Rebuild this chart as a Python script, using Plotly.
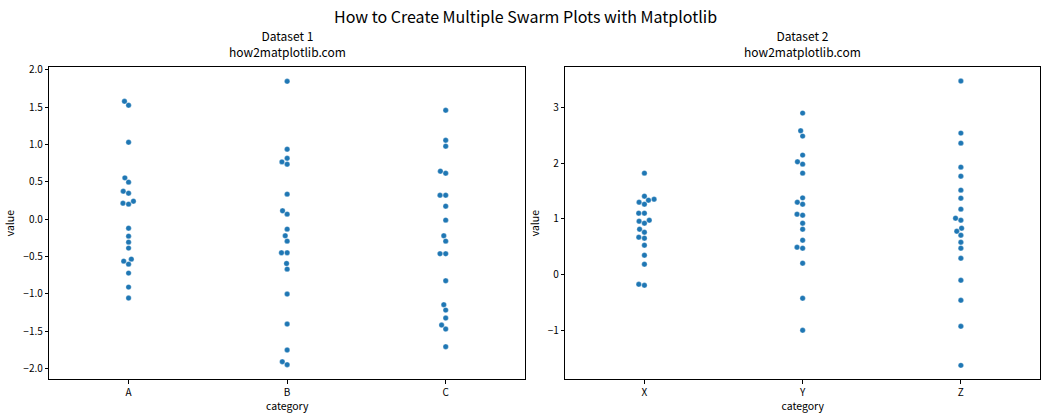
import numpy as np
import plotly.graph_objects as go

# ---- data ----
cats1 = ["A", "B", "C"]
cats2 = ["X", "Y", "Z"]

vals_A = [1.580, 1.527, 1.031, 0.554, 0.496, 0.375, 0.348, 0.241, 0.214, 0.201,
          -0.121, -0.228, -0.308, -0.388, -0.536, -0.563, -0.603, -0.723, -0.911, -1.058]
vals_B = [1.848, 0.938, 0.817, 0.768, 0.737, 0.335, 0.112, 0.067, -0.134, -0.223,
          -0.295, -0.451, -0.451, -0.594, -0.670, -1.004, -1.406, -1.754, -1.911, -1.951]
vals_C = [1.460, 1.058, 0.978, 0.643, 0.616, 0.321, 0.321, 0.174, -0.013, -0.223,
          -0.295, -0.464, -0.464, -0.826, -1.147, -1.219, -1.326, -1.420, -1.473, -1.710]
vals_X = [1.820, 1.407, 1.353, 1.335, 1.299, 1.263, 1.102, 1.102, 0.976, 0.958,
          0.922, 0.814, 0.760, 0.671, 0.653, 0.527, 0.347, 0.186, -0.174, -0.192]
vals_Y = [2.898, 2.581, 2.485, 2.144, 2.024, 1.982, 1.820, 1.377, 1.299, 1.263,
          1.084, 1.066, 0.922, 0.814, 0.617, 0.491, 0.473, 0.204, -0.425, -1.000]
vals_Z = [3.473, 2.539, 2.359, 1.928, 1.766, 1.515, 1.371, 1.174, 1.012, 0.976,
          0.832, 0.778, 0.707, 0.581, 0.473, 0.293, -0.102, -0.461, -0.928, -1.629]

yticks1 = [-2.0, -1.5, -1.0, -0.5, 0.0, 0.5, 1.0, 1.5, 2.0]
yticks2 = [-1, 0, 1, 2, 3]

# ---- layout geometry ----
W, H = 1050, 420
dom_x1 = [49.3 / W, 525.0 / W]
dom_x2 = [565.3 / W, 1040.0 / W]
dom_y = [(H - 379.0) / H, (H - 67.3) / H]
yr1 = [-2.143, 2.036]
yr2 = [-1.874, 3.72]
xr = [-0.5, 2.5]
COLOR = "#1f77b4"
FONT = "Noto Sans CJK SC"
DIAM = 5.7  # collision diameter in px


def beeswarm(vals, px_per_y, d=DIAM):
    y = np.asarray(vals, dtype=float) * px_per_y
    order = np.argsort(y, kind="stable")
    xs = np.zeros(len(y))
    placed = []
    for i in order:
        yi = y[i]
        nb = [(px, py) for px, py in placed if abs(py - yi) < d]
        cands = [0.0]
        for px, py in nb:
            dx = np.sqrt(d ** 2 - (py - yi) ** 2)
            cands += [px - dx, px + dx]
        cands = sorted(cands, key=abs)
        chosen = 0.0
        for c in cands:
            if all((c - px) ** 2 + (yi - py) ** 2 >= d ** 2 - 1e-6 for px, py in nb):
                chosen = c
                break
        xs[i] = chosen
        placed.append((chosen, yi))
    return xs


plot_h = (dom_y[1] - dom_y[0]) * H
fig = go.Figure()

panels = [
    (cats1, [vals_A, vals_B, vals_C], yr1, dom_x1, "x", "y"),
    (cats2, [vals_X, vals_Y, vals_Z], yr2, dom_x2, "x2", "y2"),
]
for cats, series, yr, domx, xa, ya in panels:
    px_per_y = plot_h / (yr[1] - yr[0])
    plot_w = (domx[1] - domx[0]) * W
    px_per_x = plot_w / (xr[1] - xr[0])
    for k, (cat, vals) in enumerate(zip(cats, series)):
        offs = beeswarm(vals, px_per_y) / px_per_x
        fig.add_trace(go.Scatter(
            x=k + offs, y=vals, mode="markers", name=cat,
            marker=dict(color=COLOR, size=5.4, line=dict(width=0.3, color="white")),
            xaxis=xa, yaxis=ya, showlegend=False,
        ))

axis_common = dict(
    showline=True, mirror=True, linecolor="black", linewidth=1,
    ticks="outside", ticklen=3.5, tickwidth=0.8, tickcolor="black",
    showgrid=False, zeroline=False, automargin=False,
    tickfont=dict(family=FONT, size=10, color="black"),
)

fig.update_layout(
    width=W, height=H,
    margin=dict(l=0, r=0, t=0, b=0, autoexpand=False),
    paper_bgcolor="white", plot_bgcolor="white",
    font=dict(family=FONT, color="black"),
    xaxis=dict(domain=dom_x1, range=xr, tickvals=[0, 1, 2], ticktext=cats1,
               title=dict(text="category", font=dict(size=10.5), standoff=4),
               anchor="y", **axis_common),
    yaxis=dict(domain=dom_y, range=yr1, tickvals=yticks1, tickformat=".1f",
               title=dict(text="value", font=dict(size=10.5), standoff=6),
               anchor="x", **axis_common),
    xaxis2=dict(domain=dom_x2, range=xr, tickvals=[0, 1, 2], ticktext=cats2,
                title=dict(text="category", font=dict(size=10.5), standoff=4),
                anchor="y2", **axis_common),
    yaxis2=dict(domain=dom_y, range=yr2, tickvals=yticks2,
                title=dict(text="value", font=dict(size=10.5), standoff=6),
                anchor="x2", **axis_common),
    annotations=[
        dict(text="How to Create Multiple Swarm Plots with Matplotlib",
             x=0.5, y=(H - 16) / H, xref="paper", yref="paper",
             xanchor="center", yanchor="middle", showarrow=False,
             font=dict(size=16, family=FONT)),
        dict(text="Dataset 1<br>how2matplotlib.com",
             x=(dom_x1[0] + dom_x1[1]) / 2, y=(H - 61.5) / H, xref="paper", yref="paper",
             xanchor="center", yanchor="bottom", showarrow=False,
             font=dict(size=12, family=FONT)),
        dict(text="Dataset 2<br>how2matplotlib.com",
             x=(dom_x2[0] + dom_x2[1]) / 2, y=(H - 61.5) / H, xref="paper", yref="paper",
             xanchor="center", yanchor="bottom", showarrow=False,
             font=dict(size=12, family=FONT)),
    ],
)

fig.write_html("out.html")
